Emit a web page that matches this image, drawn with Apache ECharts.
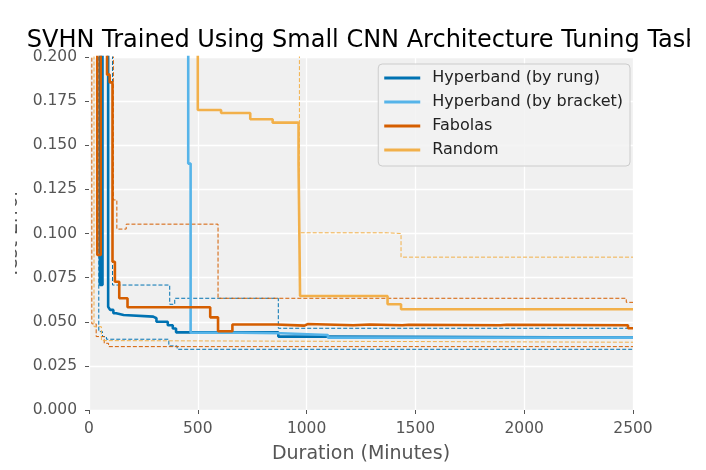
<!DOCTYPE html>
<html>
<head>
<meta charset="utf-8">
<title>SVHN Small CNN</title>
<script src="https://cdn.jsdelivr.net/npm/echarts@6/dist/echarts.min.js"></script>
<style>
    html, body { margin: 0; padding: 0; background: #fff; }
    #clip { position: absolute; left: 15px; top: 0; width: 675px; height: 470px; overflow: hidden; }
    #main { position: absolute; left: -15px; top: 0; width: 706px; height: 470px; }
</style>
</head>
<body>
<div id="clip"><div id="main"></div></div>
<script>
// values (duration in minutes, test error)
const rungX = [0, 50, 62, 88, 97, 112, 125, 159, 295, 310, 362, 385, 400, 870, 1100, 2500];
const rungY = [0.3, 0.0708, 0.3, 0.0585, 0.0567, 0.0548, 0.0538, 0.0529, 0.052, 0.050, 0.048, 0.0462, 0.044, 0.0416, 0.041, 0.041];
const rungHiX = [0, 108, 371, 394, 870, 2500];
const rungHiY = [0.3, 0.0708, 0.0599, 0.0633, 0.0463, 0.0463];
const rungLoX = [0, 45, 62, 80, 367, 405, 2500];
const rungLoY = [0.3, 0.0444, 0.0416, 0.0401, 0.0363, 0.0344, 0.0344];

const bracketX = [0, 456, 467, 698, 883, 1098, 2500];
const bracketY = [0.3, 0.1396, 0.0438, 0.0435, 0.0425, 0.041, 0.041];

const fabolasX = [0, 38, 54, 83, 95, 108, 119, 139, 177, 557, 593, 659, 860, 990, 1005, 1215, 1290, 1440, 1470, 1890, 1920, 2477, 2500];
const fabolasY = [0.3, 0.0878, 0.3, 0.19, 0.1856, 0.084, 0.0727, 0.0633, 0.0582, 0.0525, 0.0446, 0.0484, 0.0478, 0.0487, 0.048, 0.0484, 0.048, 0.0483, 0.048, 0.0483, 0.048, 0.0463, 0.0463];
const fabolasHiX = [0, 112, 128, 171, 593, 2469, 2500];
const fabolasHiY = [0.3, 0.119, 0.1025, 0.1053, 0.0633, 0.061, 0.061];
const fabolasLoX = [0, 13, 33, 70, 90, 2500];
const fabolasLoY = [0.3, 0.0488, 0.0416, 0.0378, 0.0359, 0.0359];

const randomX = [0, 500, 607, 741, 844, 963, 970, 1372, 1434, 2500];
const randomY = [0.3, 0.170, 0.1683, 0.1647, 0.1628, 0.1396, 0.0646, 0.0599, 0.0571, 0.0571];
const randomHiX = [0, 967, 1372, 1434, 2500];
const randomHiY = [0.3, 0.1004, 0.1, 0.0866, 0.0866];
const randomLoX = [0, 23, 57, 92, 2500];
const randomLoY = [0.3, 0.0472, 0.0393, 0.0384, 0.0384];

const names = ['Hyperband (by rung)', 'Hyperband (by bracket)', 'Fabolas', 'Random'];
const colors = ['#0072B2', '#56B4E9', '#D55E00', '#F2B04A'];
const font = 'DejaVu Sans';

function zip(xs, ys) {
    return xs.map(function (x, i) { return [x, ys[i]]; });
}

function mainLine(name, color, xs, ys) {
    return {
        name: name, type: 'line', step: 'end', symbol: 'none', clip: true,
        lineStyle: { color: color, width: 2.6 }, itemStyle: { color: color },
        data: zip(xs, ys)
    };
}

function bandLine(color, xs, ys) {
    return {
        type: 'line', step: 'end', symbol: 'none', clip: true, silent: true,
        lineStyle: { color: color, width: 1, type: [4, 2] },
        data: zip(xs, ys)
    };
}

const chart = echarts.init(document.getElementById('main'));
const option = {
    animation: false,
    title: {
        text: 'SVHN Trained Using Small CNN Architecture Tuning Task',
        left: 358, top: 24, textAlign: 'center',
        textStyle: { fontFamily: font, fontSize: 24, fontWeight: 'normal', color: '#000' }
    },
    legend: {
        data: names, orient: 'vertical', right: 76, top: 64,
        itemWidth: 36, itemHeight: 3, itemGap: 8,
        padding: [6, 7, 8, 6],
        backgroundColor: 'rgba(242,242,242,0.85)', borderColor: '#cccccc', borderWidth: 1, borderRadius: 4,
        icon: 'rect',
        textStyle: { fontFamily: font, fontSize: 16, color: '#222', padding: [0, 0, 0, 7] }
    },
    grid: {
        left: 89, right: 73, top: 57, bottom: 60, outerBoundsMode: 'none',
        show: true, backgroundColor: '#f0f0f0', borderWidth: 0
    },
    xAxis: {
        type: 'value', min: 0, max: 2500, interval: 500,
        name: 'Duration (Minutes)', nameLocation: 'middle', nameGap: 35,
        nameTextStyle: { fontFamily: font, fontSize: 19, color: '#555' },
        axisLine: { show: false },
        axisTick: { show: true, length: 4, lineStyle: { color: '#555' } },
        axisLabel: {
            fontFamily: font, fontSize: 15.5, color: '#555', margin: 11,
            formatter: function (v) { return String(v); }
        },
        splitLine: { lineStyle: { color: '#ffffff', width: 1.3 } }
    },
    yAxis: {
        type: 'value', min: 0, max: 0.2, interval: 0.025,
        name: 'Test Error', nameLocation: 'middle', nameGap: 66, nameRotate: 90,
        nameTextStyle: { fontFamily: font, fontSize: 19, color: '#555' },
        axisLine: { show: false },
        axisTick: { show: true, length: 4, lineStyle: { color: '#555' } },
        axisLabel: {
            fontFamily: font, fontSize: 15.5, color: '#555', margin: 12,
            formatter: function (v) { return v.toFixed(3); }
        },
        splitLine: { lineStyle: { color: '#ffffff', width: 1.3 } }
    },
    series: [
        bandLine(colors[0], rungHiX, rungHiY),
        bandLine(colors[0], rungLoX, rungLoY),
        bandLine(colors[2], fabolasHiX, fabolasHiY),
        bandLine(colors[2], fabolasLoX, fabolasLoY),
        bandLine(colors[3], randomHiX, randomHiY),
        bandLine(colors[3], randomLoX, randomLoY),
        mainLine(names[0], colors[0], rungX, rungY),
        mainLine(names[1], colors[1], bracketX, bracketY),
        mainLine(names[2], colors[2], fabolasX, fabolasY),
        mainLine(names[3], colors[3], randomX, randomY)
    ]
};
chart.setOption(option);
</script>
</body>
</html>
